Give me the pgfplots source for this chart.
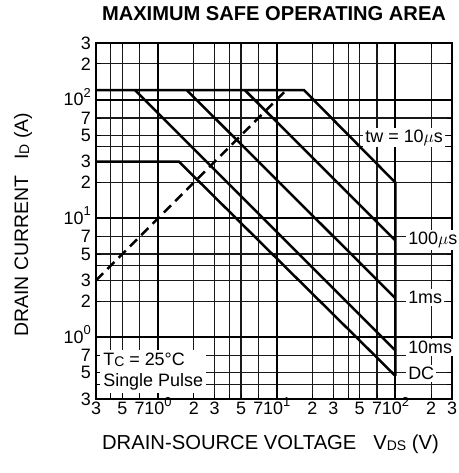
\documentclass[border=0pt]{standalone}
\usepackage{pgfplots}
\pgfplotsset{compat=1.18}
\usepackage{fontspec}
\setmainfont{Liberation Sans}
\newcommand\sub[1]{\raisebox{-0.1ex}{\fontsize{14}{14}\selectfont #1}}
\newcommand\lbl{\fontsize{18}{21}\selectfont}
\newcommand\supr[1]{\smash{\raisebox{0.9ex}{\fontsize{13}{13}\selectfont #1}}}

\begin{document}
\begin{tikzpicture}
\path[use as bounding box] (-96bp,-74bp) rectangle (363bp,399bp);
\begin{axis}[
  at={(0,0)}, anchor=south west,
  scale only axis, width=356bp, height=356bp,
  xmode=log, ymode=log,
  xmin=0.3, xmax=300, ymin=0.3, ymax=300,
  xtick={0.3,0.4,0.5,0.7,1,2,3,4,5,7,10,20,30,40,50,70,100,200,300},
  xticklabels={3,,5,7,10\supr{0},2,3,,5,7,10\supr{1},2,3,,5,7,10\supr{2},2,3},
  ytick={0.3,0.4,0.5,0.7,1,2,3,4,5,7,10,20,30,40,50,70,100,200,300},
  yticklabels={3,,5,7,10\supr{0},2,3,,5,7,10\supr{1},2,3,,5,7,10\supr{2},2,3},
  minor xtick={}, minor ytick={},
  tick label style={font=\lbl},
  xticklabel style={inner sep=1bp, yshift=-2bp},
  yticklabel style={inner sep=5bp},
  tick align=inside, major tick length=5bp,
  tick style={black, line width=0.8bp},
  grid=major,
  major grid style={black!90, line width=1.1bp},
  extra x ticks={1,10,100}, extra y ticks={1,10,100},
  extra x tick labels={}, extra y tick labels={},
  extra tick style={grid=major, major grid style={black, line width=1.8bp}, major tick length=0pt},
  axis line style={line width=2.5bp},
  clip=false,
  title={MAXIMUM SAFE OPERATING AREA},
  title style={font=\bfseries\fontsize{20.2}{20.2}\selectfont, at={(axis description cs:0.5,1.065)}, anchor=center},
  xlabel={DRAIN-SOURCE VOLTAGE\ \ \ V\sub{DS} (V)},
  xlabel style={font=\fontsize{20.3}{20.3}\selectfont, at={(axis description cs:0.49,-0.128)}, anchor=center},
  ylabel={DRAIN CURRENT\ \ \ I\sub{D} (A)},
  ylabel style={font=\fontsize{19.5}{19.5}\selectfont, at={(axis description cs:-0.205,0.49)}, anchor=center},
]
% tw = 10us envelope
\addplot[black, line width=2.5bp] coordinates {(0.3,120) (17,120) (100,20) (100,0.47)};
% 100us
\addplot[black, line width=2.5bp] coordinates {(5.4,120) (100,6.5)};
% 1ms
\addplot[black, line width=2.5bp] coordinates {(1.75,120) (100,2.12)};
% 10ms
\addplot[black, line width=2.5bp] coordinates {(0.64,120) (100,0.77)};
% DC
\addplot[black, line width=2.5bp] coordinates {(0.3,30) (1.5,30) (100,0.47)};
% RDS(on) limit
\addplot[black, line width=2.5bp, dash pattern=on 10bp off 6bp] coordinates {(0.3,3) (12,120)};

\node[fill=white, inner sep=2bp, anchor=east, font=\lbl] at (axis cs:262,48) {tw = 10$\mu$s};
\node[fill=white, inner sep=2bp, anchor=west, font=\lbl] at (axis cs:123,6.6) {100$\mu$s};
\node[fill=white, inner sep=2bp, anchor=west, font=\lbl] at (axis cs:123,2.14) {1ms};
\node[fill=white, inner sep=2bp, anchor=west, font=\lbl] at (axis cs:123,0.81) {10ms};
\node[fill=white, inner sep=2bp, anchor=west, font=\lbl] at (axis cs:123,0.49) {DC};
\node[fill=white, inner sep=3bp, anchor=south west, align=left, font=\lbl] at (axis cs:0.325,0.335)
  {T\sub{C} = 25°C\\Single Pulse};
\end{axis}
\end{tikzpicture}
\end{document}
